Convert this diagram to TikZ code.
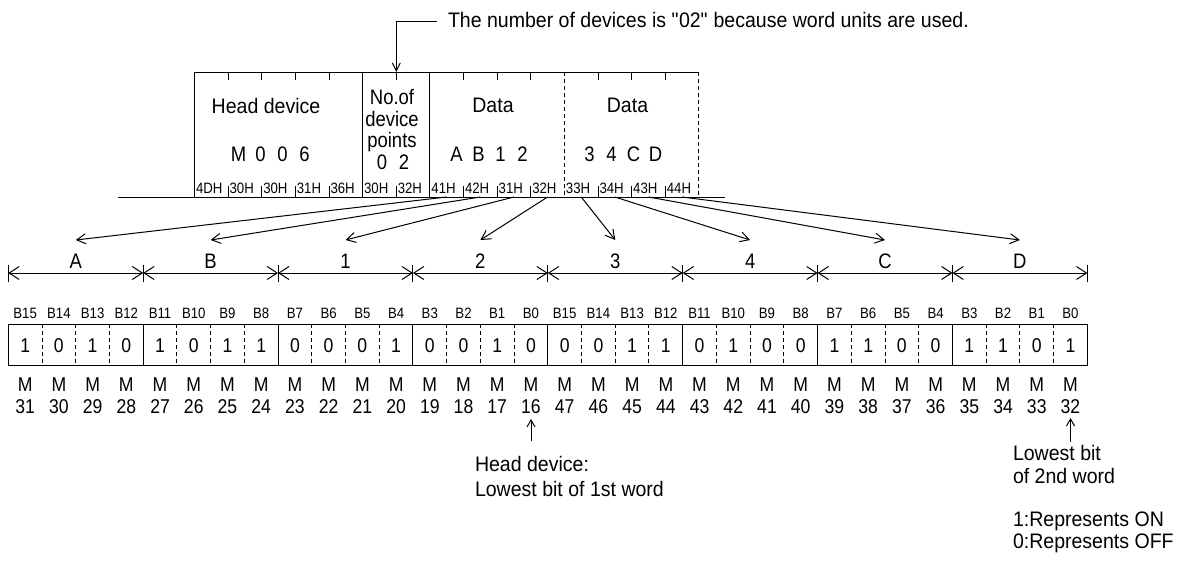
\documentclass[tikz,border=0pt]{standalone}
\usepackage{fontspec}
\setmainfont{Liberation Sans}[FakeStretch=0.88]
\newfontfamily\widefont{Liberation Sans}[FakeStretch=0.93]
\usetikzlibrary{arrows.meta}
\newcommand\szL{\fontsize{21}{21.7}\selectfont}
\newcommand\szW{\widefont\fontsize{21}{21.7}\selectfont}
\newcommand\szM{\fontsize{20}{21}\selectfont}
\newcommand\szS{\fontsize{15}{16}\selectfont}
\newcommand\chbox[1]{\makebox[22pt]{#1}}
\begin{document}
\begin{tikzpicture}[x=1pt,y=-1pt,line width=1pt,
  lbl/.style={inner sep=0pt,outer sep=0pt,anchor=base},
  lblw/.style={inner sep=0pt,outer sep=0pt,anchor=base west},
  conn/.style={-{Straight Barb[length=9pt,width=10pt]}},
  dimarr/.style={{Straight Barb[length=10pt,width=13pt]}-{Straight Barb[length=10pt,width=13pt]}},
  uparr/.style={-{Straight Barb[length=7pt,width=8pt]}},
  dashline/.style={dash pattern=on 4pt off 3pt}]
\useasboundingbox (0,0) rectangle (1184,576);

% ---------- top frame ----------
\draw (118,197) -- (725,197);
\draw (194.5,197) -- (194.5,72) -- (698.95,72);
\foreach \k in {5,7} \draw (194.5+\k*33.63,72) -- (194.5+\k*33.63,197);
\foreach \k in {11,15} \draw[dashline] (194.5+\k*33.63,72) -- (194.5+\k*33.63,197);
\foreach \k in {1,2,3,4,6,8,9,10,12,13,14} {
  \draw (194.5+\k*33.63,72) -- (194.5+\k*33.63,80);
  \draw (194.5+\k*33.63,186) -- (194.5+\k*33.63,197);
}
\foreach \h [count=\i from 0] in {4DH,30H,30H,31H,36H,30H,32H,41H,42H,31H,32H,33H,34H,43H,44H} {
  \node[lblw,font=\szS] (hex\i) at (194.5+\i*33.63+1.5,193) {\h};
  \coordinate (hb\i) at (194.5+\i*33.63+16.8,197);
}
\node[lbl,font=\szW] (hdtitle) at (266,113.5) {Head device};
\node[lbl,font=\szL] (hdval) at (271.5,161.5) {\chbox{M}\chbox{0}\chbox{0}\chbox{6}};
\node[lbl,font=\szL] (np1) at (392,104.5) {No.of};
\node[lbl,font=\szL] (np2) at (392,126.2) {device};
\node[lbl,font=\szL] (np3) at (392,147.9) {points};
\node[lbl,font=\szL] (np4) at (393,169.6) {\chbox{0}\chbox{2}};
\node[lbl,font=\szW] (d1title) at (493,112.5) {Data};
\node[lbl,font=\szL] (d1val) at (489.5,161.5) {\chbox{A}\chbox{B}\chbox{1}\chbox{2}};
\node[lbl,font=\szW] (d2title) at (627.5,112.5) {Data};
\node[lbl,font=\szL] (d2val) at (622.5,161.5) {\chbox{3}\chbox{4}\chbox{C}\chbox{D}};

% ---------- annotation ----------
\node[lblw,font=\szW] (note) at (448,27.5) {The number of devices is \textquotedbl 02\textquotedbl\ because word units are used.};
\coordinate (notel) at (437,21);
\coordinate (notec) at (396.28,21);
\coordinate (notet) at (396.28,72);
\draw[-{Straight Barb[length=8pt,width=8pt]}] (notel) -- (notec) -- (notet);

% ---------- dimension line ----------
\foreach \L [count=\s from 0] in {A,B,1,2,3,4,C,D} {
  \coordinate (sl\s) at (8.3+\s*134.88,273);
  \coordinate (sr\s) at (8.3+\s*134.88+134.88,273);
  \draw[dimarr] (sl\s) -- (sr\s);
  \node[lbl,font=\szL] (seg\s) at (8.3+\s*134.88+67.44,268) {\L};
  \coordinate (tip\s) at (8.3+\s*134.88+67.44,240);
  \pgfmathtruncatemacro\hh{\s+7}
  \draw[conn] (hb\hh) -- (tip\s);
}
\foreach \s in {0,...,8} \draw (8.3+\s*134.88,265) -- (8.3+\s*134.88,282);

% ---------- bit row ----------
\draw (8.3,324) rectangle (1087.3,365.7);
\foreach \j in {1,...,31} {
  \pgfmathtruncatemacro\r{mod(\j,4)}
  \ifnum\r=0
    \draw (8.3+\j*33.72,324) -- (8.3+\j*33.72,365.7);
  \else
    \draw[dashline] (8.3+\j*33.72,324) -- (8.3+\j*33.72,365.7);
  \fi
}
\foreach \v [count=\j from 0] in {1,0,1,0,1,0,1,1,0,0,0,1,0,0,1,0,0,0,1,1,0,1,0,0,1,1,0,0,1,1,0,1} {
  \pgfmathtruncatemacro\b{15-mod(\j,16)}
  \pgfmathtruncatemacro\m{ifthenelse(\j<16,31-\j,63-\j)}
  \node[lbl,font=\szS] (bl\j) at (8.3+\j*33.72+16.86,318.5) {B\b};
  \node[lbl,font=\szM] (bv\j) at (8.3+\j*33.72+16.86,352.7) {\v};
  \node[lbl,font=\szM] (mm\j) at (8.3+\j*33.72+16.86,391.7) {M};
  \node[lbl,font=\szM] (mn\j) at (8.3+\j*33.72+16.86,413.3) {\m};
}

% ---------- bottom notes ----------
\coordinate (h16a) at (531,441);
\coordinate (h16b) at (531,419);
\draw[uparr] (h16a) -- (h16b);
\node[lblw,font=\szW] (hdn1) at (475,471.7) {Head device:};
\node[lblw,font=\szW] (hdn2) at (475,496.5) {Lowest bit of 1st word};
\coordinate (h32a) at (1070.5,442);
\coordinate (h32b) at (1070.5,418);
\draw[uparr] (h32a) -- (h32b);
\node[lblw,font=\szW] (lw1) at (1013,460) {Lowest bit};
\node[lblw,font=\szW] (lw2) at (1013,483) {of 2nd word};
\node[lblw,font=\szW] (on1) at (1013,526.7) {1:Represents ON};
\node[lblw,font=\szW] (on2) at (1013,548.3) {0:Represents OFF};
\end{tikzpicture}
\end{document}
